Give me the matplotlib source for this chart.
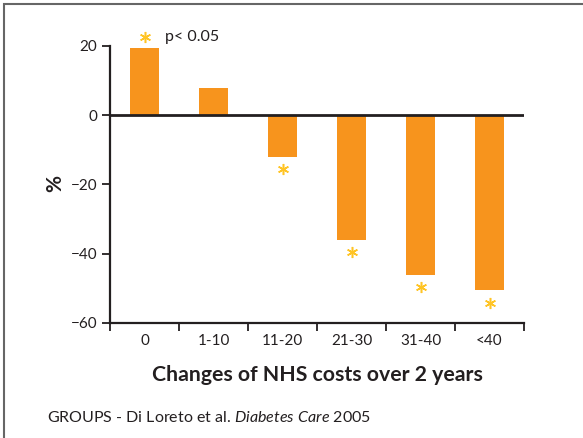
import matplotlib
matplotlib.use("Agg")
import matplotlib.pyplot as plt
from matplotlib.patches import Rectangle

plt.rcParams['font.family'] = ['Lato', 'DejaVu Sans']
plt.rcParams['mathtext.fontset'] = 'custom'
plt.rcParams['mathtext.it'] = 'Lato:italic'
plt.rcParams['mathtext.rm'] = 'Lato'

# data
categories = ["0", "1-10", "11-20", "21-30", "31-40", "<40"]
values = [19.5, 7.8, -12, -36, -46, -50.6]
significant = [True, False, True, True, True, True]
y_ticks = [20, 0, -20, -40, -60]
y_tick_labels = ["20", "0", "\u221220", "\u221240", "\u221260"]

bar_color = "#F7941D"
star_color = "#FFC425"
dark = "#231F20"

fig = plt.figure(figsize=(5.83, 4.38), dpi=100)
ax = fig.add_axes([0.1887, 0.2626, 0.7101, 0.6324])

x = list(range(len(categories)))
ax.bar(x, values, width=0.42, color=bar_color, zorder=2)
ax.axhline(0, color=dark, lw=2, zorder=3)

# significance asterisks
for i, (v, s) in enumerate(zip(values, significant)):
    if not s:
        continue
    yy = v + 3.2 if v > 0 else v - 3.6
    ax.plot(i, yy, marker=(6, 2, 0), ms=8, mew=1.1, color=star_color,
            clip_on=False, zorder=4)
ax.text(0.3, 22.6, "p< 0.05", color=dark, ha="left", va="center", fontsize=11.5)

ax.set_xlim(-0.5, len(categories) - 0.5)
ax.set_ylim(-60, 20)
ax.set_yticks(y_ticks)
ax.set_yticklabels(y_tick_labels)
ax.set_xticks(x)
ax.set_xticklabels(categories)
ax.set_xticks([i - 0.5 for i in range(len(categories) + 1)], minor=True)
ax.tick_params(axis="x", which="major", length=0, pad=8, labelsize=11, colors=dark)
ax.tick_params(axis="x", which="minor", length=6, width=1.3, direction="out", color=dark)
ax.tick_params(axis="y", length=6, width=1.3, direction="out", labelsize=11, colors=dark, pad=3)

for side in ["top", "right"]:
    ax.spines[side].set_visible(False)
for side in ["left", "bottom"]:
    ax.spines[side].set_linewidth(1.6)
    ax.spines[side].set_color(dark)

ax.set_xlabel("Changes of NHS costs over 2 years", fontsize=15.3, fontweight="bold",
              color=dark, labelpad=12)
fig.text(55 / 583, 1 - 183 / 438, "%", rotation=90, fontsize=15, color=dark,
         ha="center", va="center", fontweight="bold")

fig.text(47 / 583, 1 - 418 / 438, "GROUPS - Di Loreto et al. $\\mathit{Diabetes\\ Care}$ 2005",
         fontsize=11.5, color=dark, ha="left", va="center")

# frame around the figure
fig.patches.append(Rectangle((4 / 583, -0.05), 1.1, 1 - 4 / 438 + 0.05,
                             transform=fig.transFigure, fill=False,
                             edgecolor="#666666", lw=1.5))

fig.savefig("out.png", dpi=100)
